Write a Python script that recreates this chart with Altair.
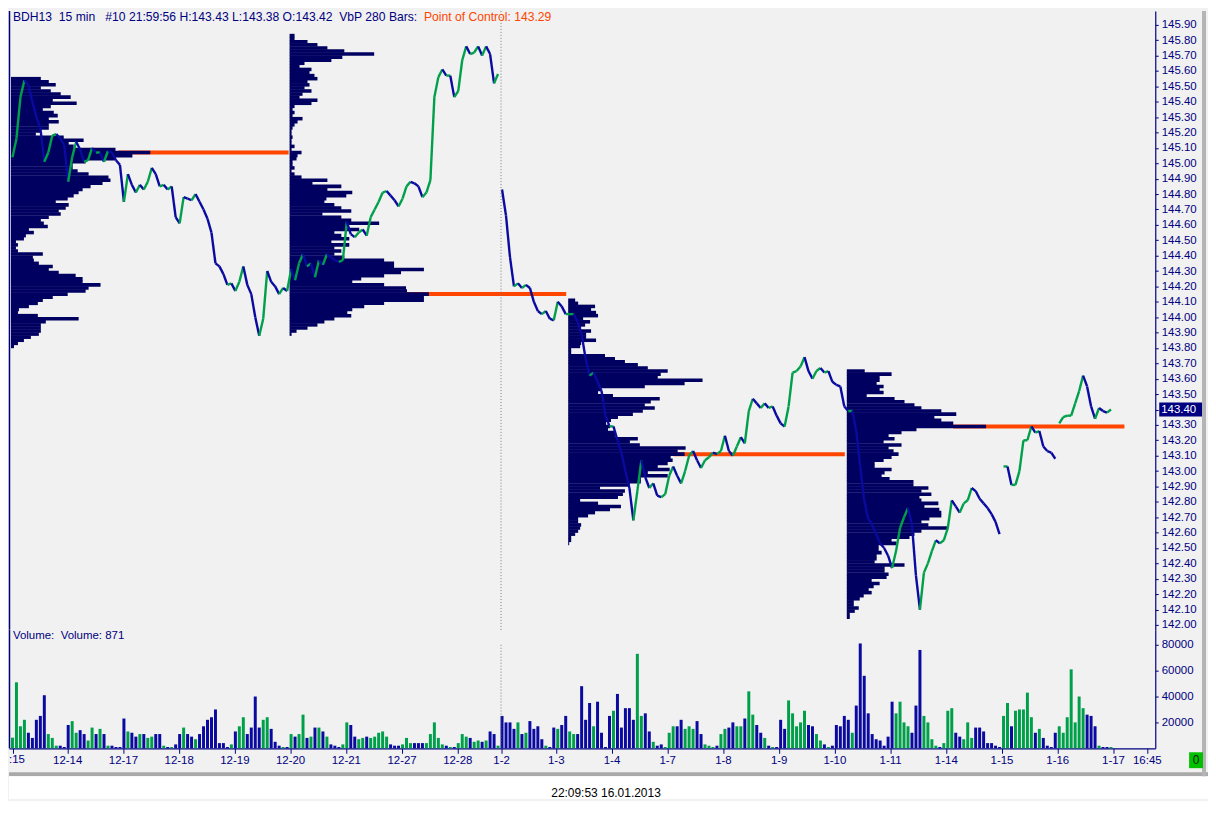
import altair as alt
import pandas as pd

# ---------------- data ----------------
BAR_STEP = 4  # one sample every 4 fifteen-minute bars

price = [
    145.04, 145.16, 145.43, 145.54, 145.51, 145.40, 145.30, 145.23, 145.01, 145.07,
    145.18, 145.19, 145.16, 145.12, 144.88, 145.04, 145.14, 145.09, 145.01, 145.02,
    145.10, 145.07, 145.07, 145.01, 145.08, 145.07, 145.02, 144.99, 144.75, 144.93,
    144.86, 144.81, 144.86, 144.83, 144.88, 144.97, 144.93, 144.85, 144.86, 144.83,
    144.85, 144.65, 144.61, 144.78, 144.77, 144.76, 144.80, 144.75, 144.70, 144.64,
    144.55, 144.35, 144.33, 144.28, 144.21, 144.22, 144.17, 144.23, 144.33, 144.21,
    144.15, 144.00, 143.88, 143.99, 144.30, 144.23, 144.20, 144.15, 144.19, 144.17,
    144.31, 144.24, 144.35, 144.41, 144.33, 144.35, 144.26, 144.37, 144.34, 144.41,
    144.39, 144.37, 144.36, 144.37, 144.62, 144.54, 144.52, 144.55, 144.57, 144.53,
    144.65, 144.70, 144.75, 144.81, 144.82, 144.79, 144.76, 144.72, 144.77, 144.85,
    144.88, 144.87, 144.85, 144.78, 144.81, 144.89, 145.43, 145.56, 145.61, 145.57,
    145.57, 145.43, 145.47, 145.67, 145.76, 145.71, 145.72, 145.76, 145.70, 145.76,
    145.71, 145.52, 145.58, 144.83, 144.66, 144.39, 144.20, 144.22, 144.19, 144.21,
    144.19, 144.10, 144.04, 144.02, 144.04, 143.99, 143.98, 144.10, 144.07, 144.02,
    144.02, 144.02, 143.97, 143.89, 143.73, 143.62, 143.64, 143.58, 143.52, 143.36,
    143.29, 143.29, 143.20, 143.12, 143.00, 142.89, 142.68, 142.87, 143.07, 142.96,
    142.89, 142.92, 142.84, 142.83, 142.85, 142.97, 143.03, 142.97, 142.92, 143.00,
    143.10, 143.13, 143.07, 143.02, 143.07, 143.09, 143.12, 143.11, 143.13, 143.23,
    143.13, 143.10, 143.16, 143.22, 143.18, 143.39, 143.47, 143.44, 143.41, 143.44,
    143.41, 143.42, 143.36, 143.31, 143.29, 143.42, 143.64, 143.65, 143.68, 143.74,
    143.65, 143.60, 143.65, 143.67, 143.64, 143.65, 143.58, 143.56, 143.55, 143.42,
    143.39, 143.39, 143.26, 143.03, 142.81, 142.69, 142.65, 142.59, 142.53, 142.50,
    142.45, 142.37, 142.48, 142.63, 142.70, 142.76, 142.65, 142.32, 142.10, 142.34,
    142.40, 142.48, 142.55, 142.53, 142.55, 142.63, 142.81, 142.77, 142.73, 142.79,
    142.81, 142.89, 142.87, 142.82, 142.79, 142.76, 142.72, 142.67, 142.59, 143.03,
    143.03, 142.91, 142.91, 143.00, 143.20, 143.20, 143.29, 143.25, 143.26, 143.16,
    143.13, 143.12, 143.08, 143.31, 143.35, 143.36, 143.36, 143.44, 143.52, 143.62,
    143.55, 143.42, 143.34, 143.41, 143.39, 143.38, 143.40,
]
session_breaks = [122, 248, 262]  # no connecting stroke after these samples

volume = [
    8200, 51000, 17000, 22000, 12000, 8000, 22000, 25000, 41000, 11000,
    8000, 2000, 2000, 1000, 18000, 21000, 12000, 14000, 11000, 6000,
    16000, 11000, 15000, 11000, 2000, 2000, 1000, 1000, 23000, 13000,
    12000, 9000, 11000, 11000, 8000, 9000, 11000, 11000, 2000, 1000,
    1000, 3000, 11000, 16000, 11000, 9000, 7000, 11000, 17000, 22000,
    24000, 30000, 4000, 4000, 1000, 3000, 13000, 17000, 24000, 11000,
    16000, 40000, 16000, 22000, 24000, 15000, 5000, 2000, 1000, 1000,
    11000, 9000, 11000, 26000, 8000, 9000, 16000, 16000, 13000, 9000,
    3000, 2000, 1000, 3000, 20000, 18000, 9000, 7000, 8000, 9000,
    8000, 9000, 12000, 13000, 9000, 3000, 2000, 2000, 3000, 8000,
    4000, 4000, 4000, 4000, 4000, 11000, 20000, 8000, 3000, 2000,
    1000, 1000, 4000, 11000, 9000, 8000, 5000, 6000, 5000, 6000,
    13000, 11000, 2000, 25000, 20000, 20000, 15000, 20000, 11000, 12000,
    21000, 15000, 17000, 7000, 2000, 1000, 16000, 15000, 18000, 25000,
    13000, 11000, 11000, 48000, 22000, 35000, 17000, 36000, 12000, 1000,
    25000, 29000, 42000, 16000, 31000, 31000, 22000, 73000, 25000, 27000,
    13000, 5000, 2000, 3000, 1000, 12000, 17000, 17000, 22000, 15000,
    17000, 15000, 21000, 11000, 3000, 2000, 1000, 2000, 11000, 15000,
    16000, 20000, 17000, 17000, 23000, 44000, 26000, 18000, 12000, 8000,
    2000, 1000, 1000, 22000, 15000, 37000, 27000, 17000, 20000, 29000,
    18000, 17000, 11000, 6000, 3000, 1000, 2000, 18000, 17000, 25000,
    22000, 12000, 33000, 81000, 56000, 27000, 11000, 7000, 6000, 2000,
    9000, 36000, 27000, 36000, 20000, 17000, 12000, 33000, 76000, 25000,
    20000, 7000, 2000, 1000, 4000, 29000, 31000, 12000, 9000, 7000,
    20000, 8000, 16000, 16000, 13000, 4000, 4000, 2000, 1000, 25000,
    35000, 17000, 29000, 30000, 30000, 43000, 24000, 12000, 15000, 8000,
    2000, 1000, 12000, 17000, 12000, 24000, 61000, 20000, 40000, 31000,
    26000, 25000, 17000, 2000, 1000, 1000, 1000,
]

day_ticks = [0, 55, 111, 167, 223, 279, 335, 391, 447, 491, 546, 602, 658,
             714, 770, 826, 882, 938, 994, 1050, 1106, 1140]
day_labels = [":15", "12-14", "12-17", "12-18", "12-19", "12-20", "12-21",
              "12-27", "12-28", "1-2", "1-3", "1-4", "1-7", "1-8", "1-9",
              "1-10", "1-11", "1-14", "1-15", "1-16", "1-17", "16:45"]
price_ticks = [145.90, 145.80, 145.70, 145.60, 145.50, 145.40, 145.30, 145.20,
               145.10, 145.00, 144.90, 144.80, 144.70, 144.60, 144.50, 144.40,
               144.30, 144.20, 144.10, 144.00, 143.90, 143.80, 143.70, 143.60,
               143.50, 143.40, 143.30, 143.20, 143.10, 143.00, 142.90, 142.80,
               142.70, 142.60, 142.50, 142.40, 142.30, 142.20, 142.10, 142.00]
volume_ticks = [20000, 40000, 60000, 80000]

# volume-by-price profiles (length of each price row, in bar units)
PROFILE_TICK = 0.02
profile_start = [-1.5, 278.5, 558.5, 838.5]
profile_top = [145.55, 145.83, 144.11, 143.65]
profile_a = [30, 38, 45, 30, 40, 50, 60, 42, 66, 40, 32, 43, 47, 38, 48, 38, 38, 30, 25, 53,
             73, 58, 63, 105, 140, 122, 105, 75, 62, 62, 67, 78, 98, 100, 92, 80, 72, 68, 63, 57,
             45, 58, 55, 48, 50, 38, 30, 33, 37, 18, 23, 15, 13, 5, 7, 5, 7, 32, 22, 23,
             28, 42, 38, 48, 65, 72, 72, 90, 78, 75, 57, 42, 32, 27, 18, 8, 7, 27, 68, 35,
             30, 30, 30, 28, 20, 13, 7, 3]
profile_b = [5, 5, 18, 28, 38, 55, 85, 53, 42, 15, 10, 22, 20, 25, 28, 18, 20, 15, 22, 13,
             10, 28, 22, 5, 3, 5, 3, 13, 8, 5, 3, 2, 2, 3, 2, 2, 5, 2, 12, 8,
             7, 3, 3, 5, 2, 5, 12, 38, 23, 52, 38, 63, 57, 37, 35, 45, 52, 62, 33, 52,
             62, 90, 57, 70, 45, 52, 60, 42, 60, 45, 52, 45, 55, 95, 105, 105, 135, 112, 95, 72,
             63, 95, 117, 118, 140, 135, 135, 95, 75, 63, 58, 62, 45, 35, 28, 18, 7, 2]
profile_c = [7, 10, 27, 23, 28, 30, 15, 22, 17, 13, 23, 18, 18, 28, 13, 12, 3, 3, 37, 47,
             57, 70, 80, 100, 93, 90, 135, 117, 77, 33, 30, 45, 92, 83, 77, 87, 75, 65, 50, 43,
             38, 42, 40, 47, 47, 70, 62, 72, 118, 110, 117, 103, 105, 100, 90, 102, 80, 100, 73, 73,
             62, 32, 57, 55, 50, 12, 30, 53, 42, 27, 20, 10, 10, 13, 12, 10, 7, 3, 3, 1]
profile_d = [18, 45, 33, 33, 30, 37, 33, 37, 20, 48, 58, 68, 75, 95, 110, 88, 95, 107, 140, 70,
             55, 42, 48, 37, 55, 42, 47, 52, 45, 37, 28, 28, 45, 38, 35, 43, 67, 67, 82, 75,
             85, 73, 75, 92, 78, 93, 95, 95, 83, 75, 82, 102, 75, 68, 63, 45, 50, 32, 32, 35,
             30, 30, 28, 58, 38, 38, 42, 40, 25, 33, 27, 22, 25, 17, 13, 7, 7, 12, 8, 3, 3]
profiles = [profile_a, profile_b, profile_c, profile_d]

poc_price = [145.07, 144.15, 143.11, 143.29]
poc_from = [106.5, 396.5, 664.5, 945.5]
poc_to = [277.5, 556.5, 836.5, 1117.5]

last_price = 143.40
split_day = 491

header_text = "BDH13\u00a0 15 min\u00a0\u00a0 #10 21:59:56 H:143.43 L:143.38 O:143.42\u00a0 VbP 280 Bars:"
poc_text = "Point of Control: 143.29"
volume_text = "Volume:\u00a0 Volume: 871"
stamp_text = "22:09:53 16.01.2013"
first_label = ":15"

# ---------------- styling ----------------
NAVY = "#000060"
BLUE = "#0A0AA0"
GREEN = "#00A04B"
ORANGE = "#FF4500"
AXIS_C = "#00007F"
FONT = "Liberation Sans"
W, H_TOP, H_VOL = 1152, 622, 119

# ---------------- tables ----------------
n = len(price)
idx = [k * BAR_STEP for k in range(n)]
seg_rows = []
for k in range(n - 1):
    if k in session_breaks:
        continue
    seg_rows.append({"x": idx[k], "x2": idx[k + 1], "y": price[k], "y2": price[k + 1],
                     "dir": "up" if price[k + 1] >= price[k] else "down"})
seg_df = pd.DataFrame(seg_rows)

dirs = ["up"] + ["up" if price[k] >= price[k - 1] else "down" for k in range(1, n)]
vol_df = pd.DataFrame({"x": [i - 1.5 for i in idx], "x2": [i + 1.5 for i in idx],
                       "v": volume, "base": [0] * n, "dir": dirs})

prof_rows = []
for j, widths in enumerate(profiles):
    for i, w in enumerate(widths):
        p = profile_top[j] - i * PROFILE_TICK
        prof_rows.append({"x": profile_start[j], "x2": profile_start[j] + w,
                          "y": p + 0.0115, "y2": p - 0.0115})
prof_df = pd.DataFrame(prof_rows)

poc_df = pd.DataFrame({"x": poc_from, "x2": poc_to, "y": poc_price})
tag_df = pd.DataFrame({"y": [last_price + 0.045], "y2": [last_price - 0.045],
                       "p": [last_price], "t": [f"{last_price:.2f}"]})
split_df = pd.DataFrame({"x": [split_day]})
one = pd.DataFrame({"a": [0]})

# ---------------- scales / axes ----------------
X_SCALE = alt.Scale(domain=[-3.5, 1148.5], nice=False, zero=False)
P_SCALE = alt.Scale(domain=[141.968, 145.99], nice=False, zero=False)
V_SCALE = alt.Scale(domain=[0, 91500], nice=False)
P_AXIS = alt.Axis(orient="right", values=price_ticks, format=".2f", tickSize=3,
                  labelPadding=3, labelOverlap=False, labelFlush=False, grid=False)
V_AXIS = alt.Axis(orient="right", values=volume_ticks, format="d", tickSize=3,
                  labelPadding=3, labelOverlap=False, labelFlush=False, grid=False)
label_expr = "[" + ",".join("''" if i == 0 else f"'{s}'" for i, s in enumerate(day_labels)) + \
    "][indexof([" + ",".join(str(v) for v in day_ticks) + "], datum.value)]"
X_AXIS = alt.Axis(values=day_ticks, labelExpr=label_expr, tickSize=5, labelPadding=1,
                  labelOverlap=False, labelFlush=False, grid=False)

xt = lambda f: alt.X(f, type="quantitative", scale=X_SCALE, axis=None, title=None)
yp = lambda f: alt.Y(f, type="quantitative", scale=P_SCALE, axis=P_AXIS, title=None)
color_dir = alt.Color("dir:N", scale=alt.Scale(domain=["up", "down"], range=[GREEN, BLUE]),
                      legend=None)

# ---------------- price panel ----------------
poc_layer = alt.Chart(poc_df).mark_rule(color=ORANGE, strokeWidth=4).encode(
    x=xt("x"), x2="x2", y=yp("y"))
prof_layer = alt.Chart(prof_df).mark_rect(color=NAVY).encode(
    x=xt("x"), x2="x2", y=yp("y"), y2="y2")
price_layer = alt.Chart(seg_df).mark_rule(strokeWidth=2.4).encode(
    x=xt("x"), x2="x2", y=yp("y"), y2="y2", color=color_dir)
split_top = alt.Chart(split_df).mark_rule(color="#7A7A7A", strokeDash=[1, 2]).encode(
    x=xt("x"), y=alt.value(0), y2=alt.value(H_TOP))
left_top = alt.Chart(one).mark_rule(color=AXIS_C, strokeWidth=1.5).encode(
    x=alt.value(0.5), y=alt.value(0), y2=alt.value(H_TOP))
tag_rect = alt.Chart(tag_df).mark_rect(color="#000080").encode(
    x=alt.value(W + 4), x2=alt.value(W + 47), y=yp("y"), y2="y2")
tag_text = alt.Chart(tag_df).mark_text(color="white", align="left", baseline="middle",
                                        font=FONT, fontSize=11.5).encode(
    x=alt.value(W + 6), y=yp("p"), text="t:N")
head1 = alt.Chart(pd.DataFrame({"t": [header_text]})).mark_text(
    color=AXIS_C, align="left", baseline="middle", font=FONT, fontSize=12.2).encode(
    x=alt.value(4), y=alt.value(6), text="t:N")
head2 = alt.Chart(pd.DataFrame({"t": [poc_text]})).mark_text(
    color=ORANGE, align="left", baseline="middle", font=FONT, fontSize=12.2).encode(
    x=alt.value(417), y=alt.value(6), text="t:N")

top = alt.layer(poc_layer, prof_layer, price_layer, split_top, left_top,
                tag_rect, tag_text, head1, head2).properties(width=W, height=H_TOP)

# ---------------- volume panel ----------------
xb = lambda f: alt.X(f, type="quantitative", scale=X_SCALE, axis=X_AXIS, title=None)
vol_layer = alt.Chart(vol_df).mark_rect().encode(
    x=xb("x"), x2="x2",
    y=alt.Y("v:Q", scale=V_SCALE, axis=V_AXIS, title=None), y2="base",
    color=color_dir)
split_bot = alt.Chart(split_df).mark_rule(color="#7A7A7A", strokeDash=[1, 2]).encode(
    x=xb("x"), y=alt.value(15), y2=alt.value(H_VOL))
left_bot = alt.Chart(one).mark_rule(color=AXIS_C, strokeWidth=1.5).encode(
    x=alt.value(0.5), y=alt.value(0), y2=alt.value(H_VOL))
vol_label = alt.Chart(pd.DataFrame({"t": [volume_text]})).mark_text(
    color=AXIS_C, align="left", baseline="middle", font=FONT, fontSize=11.5).encode(
    x=alt.value(4), y=alt.value(6), text="t:N")
first_lbl = alt.Chart(pd.DataFrame({"t": [first_label]})).mark_text(
    color=AXIS_C, align="left", baseline="middle", font=FONT, fontSize=11.5).encode(
    x=alt.value(0), y=alt.value(131), text="t:N")
frame_band = alt.Chart(one).mark_rect(color="#A9A9A9").encode(
    x=alt.value(0), x2=alt.value(1205), y=alt.value(143), y2=alt.value(147))
white_area = alt.Chart(one).mark_rect(color="white").encode(
    x=alt.value(0), x2=alt.value(1205), y=alt.value(147), y2=alt.value(170))
right_band = alt.Chart(one).mark_rect(color="#B4B4B4").encode(
    x=alt.value(1199), x2=alt.value(1203), y=alt.value(-H_TOP), y2=alt.value(147))
green_box = alt.Chart(one).mark_rect(color="#00C000").encode(
    x=alt.value(1186), x2=alt.value(1200), y=alt.value(123), y2=alt.value(139))
green_txt = alt.Chart(pd.DataFrame({"t": ["0"]})).mark_text(
    color="#002000", align="center", baseline="middle", font=FONT, fontSize=12).encode(
    x=alt.value(1193), y=alt.value(131), text="t:N")
stamp = alt.Chart(pd.DataFrame({"t": [stamp_text]})).mark_text(
    color="black", align="center", baseline="middle", font=FONT, fontSize=12).encode(
    x=alt.value(600), y=alt.value(164), text="t:N")

bottom = alt.layer(vol_layer, split_bot, left_bot, vol_label, first_lbl, frame_band,
                   white_area, right_band, green_box, green_txt, stamp
                   ).properties(width=W, height=H_VOL)

chart = alt.vconcat(top, bottom, spacing=0, bounds="flush").configure(
    background="#F1F1F1", padding=0, font=FONT
).configure_view(stroke=None).configure_axis(
    domainColor=AXIS_C, tickColor=AXIS_C, labelColor=AXIS_C, labelFont=FONT,
    labelFontSize=11.5, domainWidth=1.2
).configure_concat(spacing=0)

chart.save("out.html", embed_options={"renderer": "svg", "actions": False})
